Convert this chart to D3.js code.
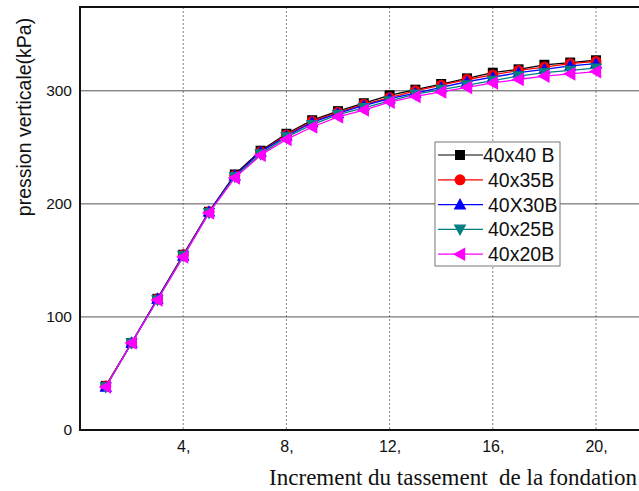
<!DOCTYPE html>
<html>
<head>
<meta charset="utf-8">
<script src="https://cdn.jsdelivr.net/npm/d3@7"></script>
<style>
  html, body { margin: 0; padding: 0; background: #fff; }
  svg { display: block; }
  text { font-family: Arial, "Liberation Sans", sans-serif; }
</style>
</head>
<body>
<svg id="chart" width="639" height="491"></svg>
<script>
// Settlement increments (x) and vertical pressure (kPa) for each footing size
const increments = d3.range(1, 21);
const seriesNames = ["40x40 B", "40x35B", "40X30B", "40x25B", "40x20B"];
const p40x40 = [39, 77, 116, 155, 193, 226, 247, 262, 274, 282, 289, 296, 301, 306, 311, 316, 319, 323, 325, 327];
const p40x35 = [39, 77, 116, 155, 193, 225, 246, 261, 273, 281, 288, 294, 300, 305, 310, 314, 318, 321, 324, 326];
const p40x30 = [38, 77, 116, 154, 193, 225, 246, 260, 272, 280, 287, 293, 298, 303, 308, 312, 316, 319, 322, 324];
const p40x25 = [38, 77, 115, 154, 192, 224, 244, 259, 270, 279, 285, 291, 297, 301, 305, 309, 313, 316, 318, 320];
const p40x20 = [38, 77, 115, 153, 192, 223, 243, 257, 268, 277, 283, 290, 295, 299, 303, 307, 310, 313, 315, 317];
const xTicks = [4, 8, 12, 16, 20];
const yTicks = [0, 100, 200, 300];
const colors = ["#000000", "#ff0000", "#0000ff", "#008080", "#ff00ff"];
const markers = ["square", "circle", "triUp", "triDown", "triLeft"];

const series = [p40x40, p40x35, p40x30, p40x25, p40x20].map((vals, i) => ({
  name: seriesNames[i], color: colors[i], marker: markers[i],
  points: vals.map((v, j) => ({ x: increments[j], y: v }))
}));

const svg = d3.select("#chart");
const W = 639;
const x = d3.scaleLinear().domain([0, 22]).range([80, 647.6]);
const y = d3.scaleLinear().domain([0, 375]).range([430, 6]);
const frameTop = 7, frameBottom = 430, frameLeft = 80;

// Vertical dotted gridlines
svg.append("g").selectAll("line").data(xTicks).join("line")
  .attr("x1", d => x(d)).attr("x2", d => x(d))
  .attr("y1", frameTop).attr("y2", frameBottom)
  .attr("stroke", "#808080").attr("stroke-width", 1)
  .attr("stroke-dasharray", "2,2");

// Horizontal solid gridlines
svg.append("g").selectAll("line").data(yTicks.filter(d => d > 0)).join("line")
  .attr("x1", frameLeft).attr("x2", W)
  .attr("y1", d => y(d)).attr("y2", d => y(d))
  .attr("stroke", "#555").attr("stroke-width", 1);

// Frame: left, top and bottom edges
svg.append("path")
  .attr("d", `M${W},${frameTop}H${frameLeft}V${frameBottom}H${W}`)
  .attr("fill", "none").attr("stroke", "#111").attr("stroke-width", 2);

// Axis labels
const xAxis = svg.append("g").attr("transform", `translate(0,${frameBottom})`)
  .call(d3.axisBottom(x).tickValues(xTicks).tickSize(0).tickPadding(11).tickFormat(d => d + ","));
xAxis.select(".domain").remove();
xAxis.selectAll("text").attr("font-size", 16).attr("font-family", "Arial, 'Liberation Sans', sans-serif").attr("fill", "#111");

const yAxis = svg.append("g").attr("transform", `translate(${frameLeft},0)`)
  .call(d3.axisLeft(y).tickValues(yTicks).tickSize(0).tickPadding(8));
yAxis.select(".domain").remove();
yAxis.selectAll("text").attr("font-size", 15.5).attr("font-family", "Arial, 'Liberation Sans', sans-serif").attr("fill", "#111");

// Axis titles
svg.append("text")
  .attr("x", 637).attr("y", 485)
  .attr("text-anchor", "end")
  .style("font-family", "'Liberation Serif', 'Times New Roman', serif")
  .style("white-space", "pre")
  .attr("font-size", 23).attr("fill", "#111")
  .text("Increment du tassement  de la fondation");

svg.append("text")
  .attr("transform", "translate(31,117) rotate(-90)")
  .attr("text-anchor", "middle")
  .attr("font-size", 19.5).attr("fill", "#111")
  .text("pression verticale(kPa)");

// Marker shapes
function markerPath(type, s) {
  const h = s / 2;
  switch (type) {
    case "square": return `M${-h},${-h}H${h}V${h}H${-h}Z`;
    case "circle": return d3.symbol(d3.symbolCircle, Math.PI * h * h)();
    case "triUp": return `M0,${-h * 1.1}L${h * 1.05},${h * 0.8}L${-h * 1.05},${h * 0.8}Z`;
    case "triDown": return `M0,${h * 1.1}L${h * 1.05},${-h * 0.8}L${-h * 1.05},${-h * 0.8}Z`;
    case "triLeft": return `M${-h * 1.1},0L${h * 0.8},${-h * 1.05}L${h * 0.8},${h * 1.05}Z`;
  }
}
const markerSize = { square: 10, circle: 11, triUp: 12, triDown: 12, triLeft: 13 };

const line = d3.line().x(d => x(d.x)).y(d => y(d.y));

const plot = svg.append("g");
series.forEach(s => {
  const g = plot.append("g");
  g.append("path").attr("d", line(s.points))
    .attr("fill", "none").attr("stroke", s.color).attr("stroke-width", 1.3);
  g.selectAll("path.m").data(s.points).join("path").attr("class", "m")
    .attr("transform", d => `translate(${x(d.x)},${y(d.y)})`)
    .attr("d", markerPath(s.marker, markerSize[s.marker]))
    .attr("fill", s.color);
});

// Legend
const legend = svg.append("g");
legend.append("rect")
  .attr("x", 435).attr("y", 142).attr("width", 125).attr("height", 124)
  .attr("fill", "#fff").attr("stroke", "#777").attr("stroke-width", 1);
series.forEach((s, i) => {
  const ly = 155 + i * 24.8;
  legend.append("line").attr("x1", 438).attr("x2", 483).attr("y1", ly).attr("y2", ly)
    .attr("stroke", s.color).attr("stroke-width", 1.2);
  legend.append("path").attr("transform", `translate(460,${ly})`)
    .attr("d", markerPath(s.marker, markerSize[s.marker])).attr("fill", s.color);
  legend.append("text").attr("x", i === 0 ? 483 : 488).attr("y", ly + 7)
    .attr("font-size", 19.5).attr("fill", "#111")
    .style("white-space", "pre")
    .text(s.name);
});
</script>
</body>
</html>
